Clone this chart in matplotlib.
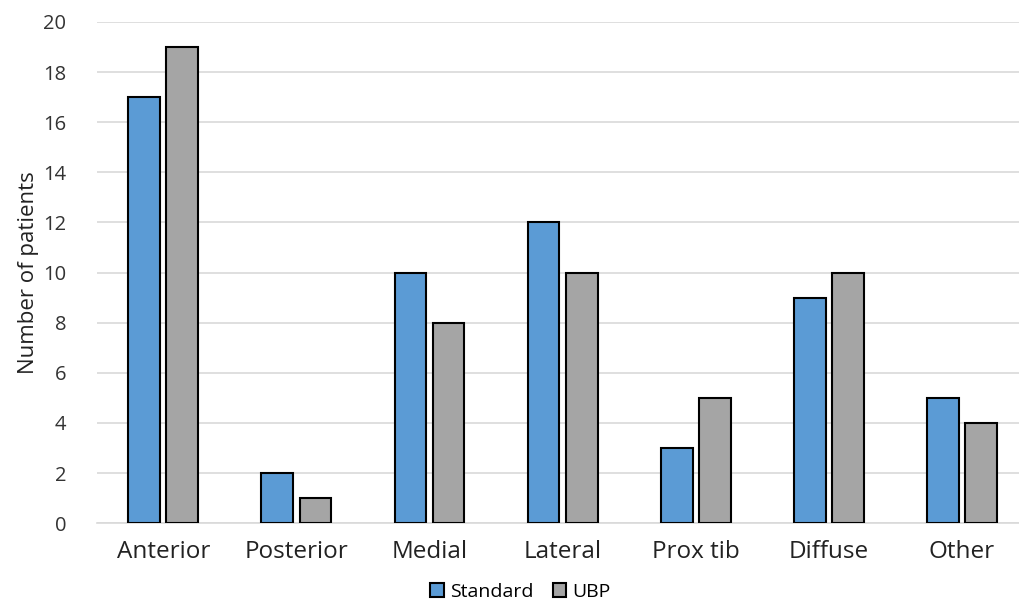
import numpy as np
import matplotlib
matplotlib.use('Agg')
import matplotlib.pyplot as plt

plt.rcParams['font.family'] = ['Open Sans', 'DejaVu Sans']

categories = ['Anterior', 'Posterior', 'Medial', 'Lateral', 'Prox tib', 'Diffuse', 'Other']
standard = [17, 2, 10, 12, 3, 9, 5]
ubp = [19, 1, 8, 10, 5, 10, 4]

fig = plt.figure(figsize=(10.2, 6.09), dpi=100)
ax = fig.add_axes([0.095, 0.141, 0.913, 0.823])

x = np.arange(len(categories))
w = 0.24
ax.bar(x - 0.143, standard, w, color='#5B9BD5', edgecolor='black', linewidth=1.5, label='Standard', zorder=3)
ax.bar(x + 0.143, ubp, w, color='#A5A5A5', edgecolor='black', linewidth=1.5, label='UBP', zorder=3)

ax.set_xlim(-0.5, len(categories) - 0.5)
ax.set_ylim(0, 20)
ax.set_yticks(range(0, 21, 2))
ax.set_xticks(x)
ax.set_xticklabels(categories, fontsize=17.5, color='#222222')
ax.tick_params(axis='y', labelsize=14.5, colors='#333333', length=0, pad=22)
ax.tick_params(axis='x', length=0, pad=12)
ax.grid(axis='y', color='#D9D9D9', linewidth=1.2, zorder=0)
for s in ['top', 'right', 'left']:
    ax.spines[s].set_visible(False)
ax.spines['bottom'].set_color('#D9D9D9')
ax.spines['bottom'].set_linewidth(1.2)

ax.set_ylabel('Number of patients', fontsize=16, color='#222222', labelpad=3)

fig.legend(loc='lower center', bbox_to_anchor=(0.51, -0.015), ncol=2, frameon=False,
           fontsize=14, handlelength=0.7, handleheight=0.7, handletextpad=0.3, columnspacing=1.0)

fig.savefig('out.png', dpi=100)
